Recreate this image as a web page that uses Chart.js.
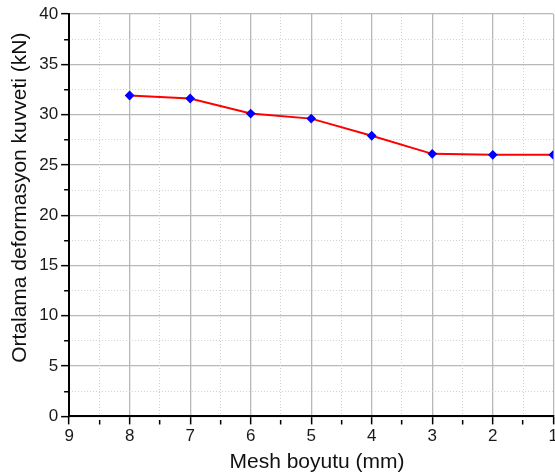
<!DOCTYPE html>
<html><head><meta charset="utf-8">
<script src="https://cdn.jsdelivr.net/npm/chart.js@4/dist/chart.umd.min.js"></script>
<style>
html,body{margin:0;padding:0;background:#fff;overflow:hidden;}
#wrap{position:relative;width:560px;height:475px;}
</style></head>
<body><div id="wrap"><canvas id="c"></canvas></div>
<script>
const meshSizes = [8, 7, 6, 5, 4, 3, 2, 1];
const forceValues = [31.9, 31.6, 30.1, 29.6, 27.9, 26.1, 26.0, 26.0];
const xTitle = '\u00A0\u00A0Mesh boyutu (mm)';
const yTitle = '\u00A0\u00A0\u00A0\u00A0\u00A0\u00A0Ortalama deformasyon kuvveti (kN)';

const isInt = v => Math.abs(v - Math.round(v)) < 1e-6;
const isMul5 = v => Math.abs(v / 5 - Math.round(v / 5)) < 1e-6;
const font = {family: '"Liberation Sans", Arial, sans-serif', size: 17};
const titleFont = {family: font.family, size: 21};

new Chart(document.getElementById('c'), {
  type: 'line',
  data: {
    datasets: [{
      data: meshSizes.map((m, i) => ({x: m, y: forceValues[i]})),
      borderColor: '#ff0000',
      borderWidth: 2,
      pointStyle: 'rectRot',
      pointRadius: 3.5,
      pointBackgroundColor: '#0000ff',
      pointBorderColor: '#0000ff',
      tension: 0
    }]
  },
  options: {
    responsive: true,
    maintainAspectRatio: false,
    animation: false,
    layout: {padding: {top: 14, left: 8, right: 0, bottom: 0}},
    plugins: {legend: {display: false}, tooltip: {enabled: false}},
    scales: {
      x: {
        type: 'linear', position: 'bottom', reverse: true, min: 1, max: 9,
        ticks: {stepSize: 0.5, autoSkip: false, maxRotation: 0, color: '#1a1a1a', font,
          padding: 2,
          callback: v => isInt(v) ? String(v) : ''},
        grid: {
          color: c => isInt(c.tick.value) ? '#b8b8b8' : 'rgba(0,0,0,0)',
          lineWidth: 1.3, tickLength: 8, tickColor: '#000', tickWidth: 1.5,
          tickBorderDash: c => isInt(c.tick.value) ? [] : [0, 3, 5, 100]
        },
        border: {color: '#000', width: 2},
        title: {display: true, text: xTitle, color: '#111', font: titleFont, padding: {top: 1, bottom: 0}}
      },
      y: {
        type: 'linear', position: 'left', min: 0, max: 40,
        ticks: {stepSize: 2.5, autoSkip: false, color: '#1a1a1a', font, padding: 3,
          callback: v => isMul5(v) ? String(v) : ''},
        grid: {
          color: c => isMul5(c.tick.value) ? '#b8b8b8' : 'rgba(0,0,0,0)',
          lineWidth: 1.3, tickLength: 8, tickColor: '#000', tickWidth: 1.5,
          tickBorderDash: c => isMul5(c.tick.value) ? [] : [0, 3, 5, 100]
        },
        border: {color: '#000', width: 2},
        title: {display: true, text: yTitle, color: '#111', font: titleFont, padding: {top: 0, bottom: 3}}
      },
      xMinor: {
        type: 'linear', position: 'top', reverse: true, min: 1, max: 9,
        ticks: {display: false, stepSize: 0.5},
        grid: {drawTicks: false, color: c => isInt(c.tick.value) ? 'rgba(0,0,0,0)' : '#d0d0d0', lineWidth: 1},
        border: {display: false, dash: [1, 2]}
      },
      yMinor: {
        type: 'linear', position: 'right', min: 0, max: 40,
        ticks: {display: false, stepSize: 2.5},
        grid: {drawTicks: false, color: c => isMul5(c.tick.value) ? 'rgba(0,0,0,0)' : '#d0d0d0', lineWidth: 1},
        border: {display: false, dash: [1, 2]}
      }
    }
  }
});
</script></body></html>
